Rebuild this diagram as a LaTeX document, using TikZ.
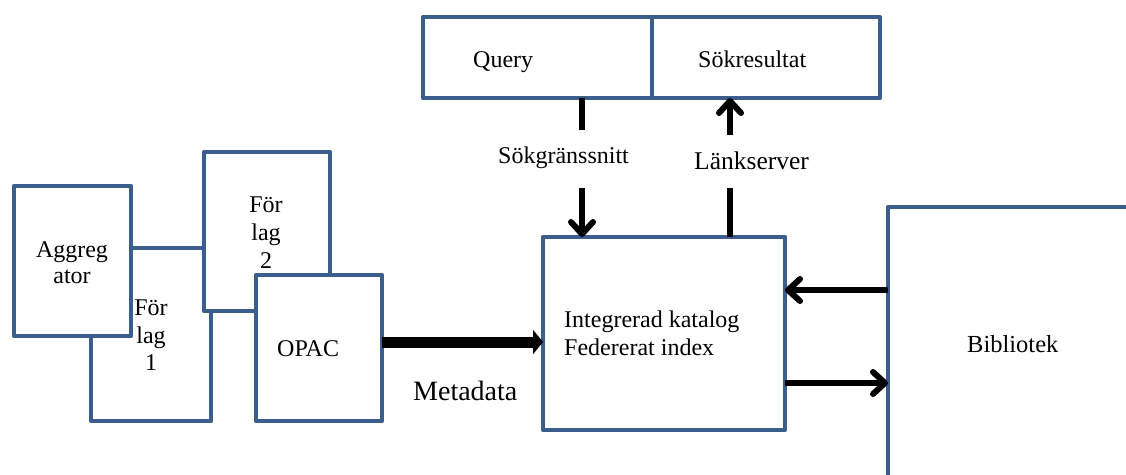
\documentclass[tikz,border=0pt]{standalone}
\usepackage{fontspec}
\setmainfont{Liberation Serif}
\usetikzlibrary{arrows.meta}
\definecolor{boxblue}{RGB}{59,94,140}
\tikzset{
  x=1pt, y=-1pt,
  box/.style={draw=boxblue, line width=4.5pt, line join=round, fill=white,
              rectangle, inner sep=0pt, outer sep=0pt, anchor=north west},
  txt/.style={inner sep=0pt, font=\fontsize{24}{28}\selectfont, anchor=base west},
  ctxt/.style={txt, anchor=base},
  link/.style={draw=black, line width=6pt},
  linkarrow/.style={link, -{Straight Barb[length=12pt,width=22pt,round]}},
  bigarrow/.style={draw=black, line width=11pt, -{Triangle[length=10pt,width=24pt]}}
}
\begin{document}
\begin{tikzpicture}
\useasboundingbox (0,0) rectangle (1126,474);

% search box split into query and result fields
\node[box, minimum width=229pt, minimum height=81pt] (query)  at (423,17) {};
\node[box, minimum width=228pt, minimum height=81pt] (result) at (652,17) {};
\node[txt] (querytxt)  at (473,67) {Query};
\node[txt] (resulttxt) at (698,67) {Sökresultat};

% sources on the left, stacked back to front
\node[box, minimum width=120pt, minimum height=173pt] (lev1) at (91,248) {};
\node[box, minimum width=117pt, minimum height=150pt] (agg)  at (14,186) {};
\node[box, minimum width=126pt, minimum height=159pt] (lev2) at (204,152) {};
\node[box, minimum width=126pt, minimum height=146pt] (opac) at (256,275) {};

\node[ctxt] (agga)  at (72,257) {Aggreg};
\node[ctxt] (aggb)  at (72,283) {ator};
\node[ctxt] (lev2a) at (266,212) {För};
\node[ctxt] (lev2b) at (266,240) {lag};
\node[ctxt] (lev2c) at (266,268) {2};
\node[ctxt] (lev1a) at (151,315) {För};
\node[ctxt] (lev1b) at (151,343) {lag};
\node[ctxt] (lev1c) at (151,370) {1};
\node[txt]  (opactxt) at (277,356) {OPAC};

% central catalogue
\node[box, minimum width=242pt, minimum height=193pt] (integ) at (543,237) {};
\node[txt] (intega) at (564,327) {Integrerad katalog};
\node[txt] (integb) at (564,355) {Federerat index};

% library, running off the page
\node[box, minimum width=400pt, minimum height=400pt] (lib) at (888,207) {};
\node[txt, font=\fontsize{24.5}{28}\selectfont] (libtxt) at (967,352) {Bibliotek};

% labels on the connectors
\node[txt] (sgtxt) at (498,163) {Sökgränssnitt};
\node[txt, font=\fontsize{25.5}{28}\selectfont] (lstxt) at (694,169) {Länkserver};
\node[txt, font=\fontsize{28}{30}\selectfont] (metatxt) at (413,400) {Metadata};

% break points around the labels
\coordinate (sg1) at (582,130);
\coordinate (sg2) at (582,188);
\coordinate (ls1) at (730,188);
\coordinate (ls2) at (730,135);

% search interface: query down to the catalogue
\draw[link] (query.south -| sg1) -- (sg1);
\draw[linkarrow] (sg2) -- (integ.north -| sg2);

% link server: catalogue up to the results
\draw[link] (integ.north -| ls1) -- (ls1);
\draw[linkarrow] (ls2) -- (result.south -| ls2);

% metadata harvest
\draw[bigarrow] (opac.east |- 0,342) -- (integ.west |- 0,342);

% exchange with the library
\draw[linkarrow] (lib.west |- 0,290) -- (integ.east |- 0,290);
\draw[linkarrow] (integ.east |- 0,383) -- (lib.west |- 0,383);
\end{tikzpicture}
\end{document}
